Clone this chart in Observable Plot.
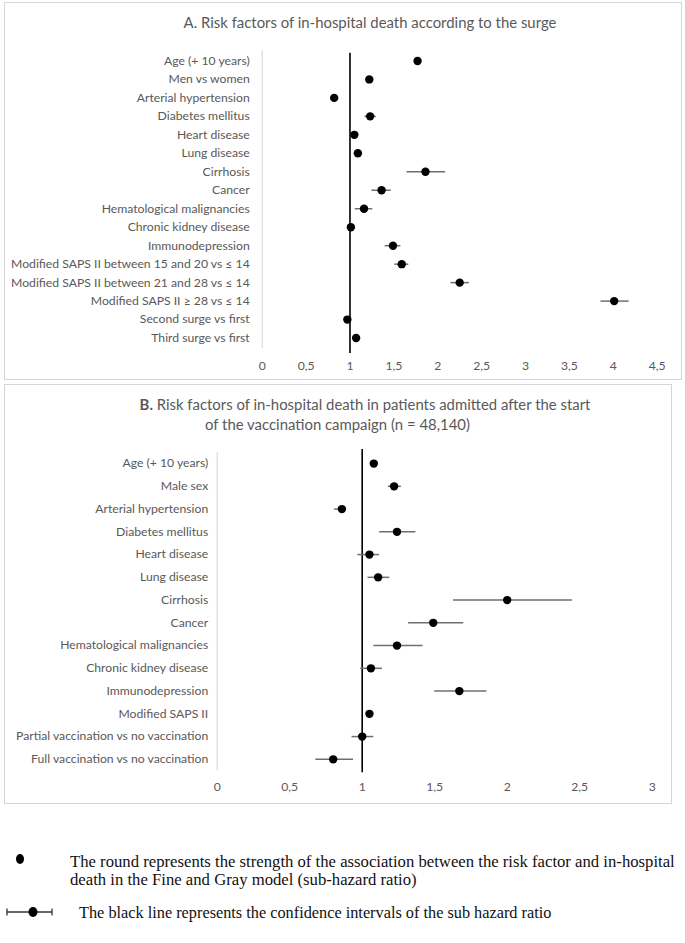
<!DOCTYPE html>
<html>
<head>
<meta charset="utf-8">
<script src="https://cdn.jsdelivr.net/npm/d3@7"></script>
<script src="https://cdn.jsdelivr.net/npm/@observablehq/plot@0.6"></script>
<style>
  html, body { margin: 0; padding: 0; background: #fff; }
  #page { position: relative; width: 685px; height: 943px; overflow: hidden; background: #fff; }
  .box { position: absolute; border: 1px solid #d6d6d6; box-sizing: border-box; }
  .abs { position: absolute; left: 0; }
</style>
</head>
<body>
<div id="page">
  <div class="box" style="left:4px;top:2px;width:678px;height:378px;"></div>
  <div class="box" style="left:4px;top:384px;width:668px;height:420px;"></div>
</div>
<script>
// ---------- Panel A data ----------
const labelsA = [
  "Age (+ 10 years)",
  "Men vs women",
  "Arterial hypertension",
  "Diabetes mellitus",
  "Heart disease",
  "Lung disease",
  "Cirrhosis",
  "Cancer",
  "Hematological malignancies",
  "Chronic kidney disease",
  "Immunodepression",
  "Modified SAPS II between 15 and 20 vs ≤ 14",
  "Modified SAPS II between 21 and 28 vs ≤ 14",
  "Modified SAPS II ≥ 28 vs ≤ 14",
  "Second surge vs first",
  "Third surge vs first"
];
const hrA = [1.77, 1.22, 0.82, 1.23, 1.05, 1.09, 1.86, 1.36, 1.16, 1.01, 1.49, 1.59, 2.25, 4.01, 0.97, 1.07];
const loA = [null, null, null, 1.17, 1.02, 1.05, 1.65, 1.25, 1.06, 0.98, 1.40, 1.51, 2.15, 3.86, 0.95, null];
const hiA = [null, null, null, 1.30, 1.07, 1.13, 2.09, 1.47, 1.26, 1.04, 1.58, 1.67, 2.36, 4.18, 0.99, null];
const ticksA = [0, 0.5, 1, 1.5, 2, 2.5, 3, 3.5, 4, 4.5];

// ---------- Panel B data ----------
const labelsB = [
  "Age (+ 10 years)",
  "Male sex",
  "Arterial hypertension",
  "Diabetes mellitus",
  "Heart disease",
  "Lung disease",
  "Cirrhosis",
  "Cancer",
  "Hematological malignancies",
  "Chronic kidney disease",
  "Immunodepression",
  "Modified SAPS II",
  "Partial vaccination vs no vaccination",
  "Full vaccination vs no vaccination"
];
const hrB = [1.08, 1.22, 0.86, 1.24, 1.05, 1.11, 2.00, 1.49, 1.24, 1.06, 1.67, 1.05, 1.00, 0.80];
const loB = [null, 1.18, 0.81, 1.12, 0.97, 1.04, 1.63, 1.32, 1.08, 0.99, 1.50, null, 0.93, 0.68];
const hiB = [null, 1.27, 0.89, 1.37, 1.12, 1.19, 2.45, 1.70, 1.42, 1.14, 1.86, null, 1.08, 0.94];
const ticksB = [0, 0.5, 1, 1.5, 2, 2.5, 3];

const titleA = "A. Risk factors of in-hospital death according to the surge";
const titleB1 = "Risk factors of in-hospital death in patients admitted after the start";
const titleB2 = "of the vaccination campaign (n = 48,140)";
const legend1a = "The round represents the strength of the association between the risk factor and in-hospital";
const legend1b = "death in the Fine and Gray model (sub-hazard ratio)";
const legend2 = "The black line represents the confidence intervals of the sub hazard ratio";

const FONT = "Lato, 'Open Sans', sans-serif";
const GREY = "#595959";
const CI = "#6f6f6f";

function panel(o) {
  const rows = o.labels.map((label, i) => ({label, hr: o.hr[i], lo: o.lo[i], hi: o.hi[i]}));
  const ci = rows.filter(d => d.lo != null);
  return Plot.plot({
    width: 685,
    height: o.height,
    marginTop: o.mTop, marginBottom: o.mBottom, marginLeft: o.mLeft, marginRight: o.mRight,
    style: {background: "transparent", fontFamily: FONT, fontSize: "12.2px", color: GREY, overflow: "visible"},
    x: {domain: o.domain, ticks: o.ticks, tickFormat: d => String(d).replace(".", ","), tickSize: 0, tickPadding: o.tickPad, label: null},
    y: {type: "point", domain: o.labels, padding: o.pad, round: false, tickSize: 0, tickPadding: o.labelPad, label: null},
    marks: [
      Plot.ruleX([0], {stroke: "#d9d9d9", strokeWidth: 1.2}),
      Plot.ruleX([1], {stroke: "#000", strokeWidth: 1.6, insetTop: o.vTop, insetBottom: o.vBottom}),
      Plot.ruleY(ci, {y: "label", x1: "lo", x2: "hi", stroke: CI, strokeWidth: 1.5}),
      Plot.ruleX(ci, {x: "lo", y: "label", stroke: CI, strokeWidth: 1.3, insetTop: -3.5, insetBottom: -3.5}),
      Plot.ruleX(ci, {x: "hi", y: "label", stroke: CI, strokeWidth: 1.3, insetTop: -3.5, insetBottom: -3.5}),
      Plot.dot(rows, {x: "hr", y: "label", r: 4.2, fill: "#000", stroke: "none"})
    ]
  });
}

const page = document.getElementById("page");

const plotA = panel({
  labels: labelsA, hr: hrA, lo: loA, hi: hiA, domain: [0, 4.5], ticks: ticksA,
  height: 380, mTop: 50, mBottom: 32, mLeft: 261.7, mRight: 28.3,
  pad: 0.565, tickPad: 12.5, labelPad: 12.5, vTop: 2.7, vBottom: -5
});
plotA.classList.add("abs");
plotA.style.top = "0px";
page.appendChild(plotA);

const plotB = panel({
  labels: labelsB, hr: hrB, lo: loB, hi: hiB, domain: [0, 3], ticks: ticksB,
  height: 420, mTop: 67.7, mBottom: 33.8, mLeft: 216.7, mRight: 33.3,
  pad: 0.5, tickPad: 12, labelPad: 9, vTop: -2.7, vBottom: -2
});
plotB.classList.add("abs");
plotB.style.top = "384px";
page.appendChild(plotB);

// ---------- Titles & legend (overlay) ----------
const ov = d3.select(page).append("svg")
  .attr("width", 685).attr("height", 943)
  .style("position", "absolute").style("left", 0).style("top", 0).style("pointer-events", "none");

ov.append("text").attr("x", 370).attr("y", 28).attr("text-anchor", "middle")
  .attr("font-family", FONT).attr("font-size", 14.9).attr("fill", GREY).text(titleA);

const tb = ov.append("text").attr("x", 365).attr("y", 410).attr("text-anchor", "middle")
  .attr("font-family", FONT).attr("font-size", 14.9).attr("fill", GREY);
tb.append("tspan").attr("font-weight", "bold").text("B.");
tb.append("tspan").text(" " + titleB1);
ov.append("text").attr("x", 337.5).attr("y", 430).attr("text-anchor", "middle")
  .attr("font-family", FONT).attr("font-size", 14.9).attr("fill", GREY).text(titleB2);

// legend symbols
ov.append("ellipse").attr("cx", 20).attr("cy", 859).attr("rx", 4).attr("ry", 5).attr("fill", "#000");
ov.append("line").attr("x1", 7).attr("x2", 52).attr("y1", 912).attr("y2", 912).attr("stroke", "#333").attr("stroke-width", 1.3);
ov.append("line").attr("x1", 7).attr("x2", 7).attr("y1", 908.5).attr("y2", 915.5).attr("stroke", "#333").attr("stroke-width", 1.3);
ov.append("line").attr("x1", 52).attr("x2", 52).attr("y1", 908.5).attr("y2", 915.5).attr("stroke", "#333").attr("stroke-width", 1.3);
ov.append("ellipse").attr("cx", 33).attr("cy", 912).attr("rx", 4.5).attr("ry", 5).attr("fill", "#000");

const SERIF = "'Liberation Serif', 'DejaVu Serif', serif";
ov.append("text").attr("x", 70).attr("y", 867).attr("font-family", SERIF).attr("font-size", 16.7).attr("fill", "#111").text(legend1a);
ov.append("text").attr("x", 70).attr("y", 885).attr("font-family", SERIF).attr("font-size", 16.7).attr("fill", "#111").text(legend1b);
ov.append("text").attr("x", 79).attr("y", 918).attr("font-family", SERIF).attr("font-size", 16.3).attr("fill", "#111").text(legend2);
</script>
</body>
</html>
